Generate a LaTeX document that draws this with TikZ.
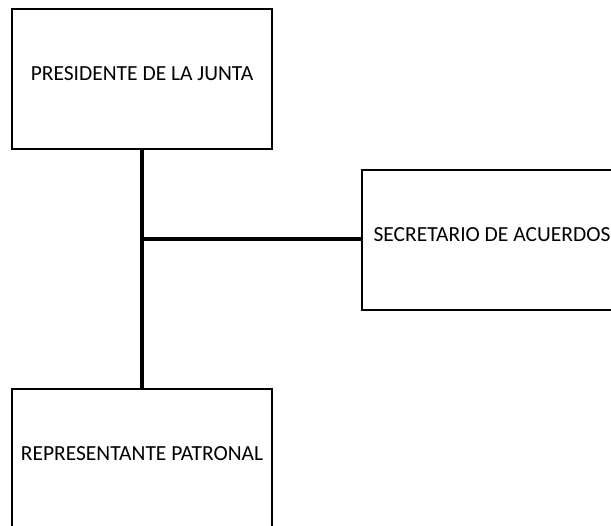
\documentclass[tikz,border=0pt]{standalone}
\usepackage{fontspec}
\setmainfont{Carlito}
\newcommand{\boxtext}[1]{\raisebox{-2pt}[0pt][0pt]{#1}}
\begin{document}
\begin{tikzpicture}[x=1pt,y=-1pt,
  orgbox/.style={draw=black,line width=2pt,fill=white,minimum width=260pt,minimum height=140pt,inner sep=0pt,font=\fontsize{21.5}{24}\selectfont},
  link/.style={line width=4pt}]
\useasboundingbox (0,0) rectangle (611,526);
\node[orgbox] (pres) at (142,79) {\boxtext{PRESIDENTE DE LA JUNTA}};
\node[orgbox] (sec) at (492,240) {\boxtext{SECRETARIO DE ACUERDOS}};
\node[orgbox] (rep) at (142,459) {\boxtext{REPRESENTANTE PATRONAL}};
\coordinate (j) at (142,239);
\draw[link] (pres.south) -- (rep.north);
\draw[link] (j) -- (sec.west |- j);
\end{tikzpicture}
\end{document}
